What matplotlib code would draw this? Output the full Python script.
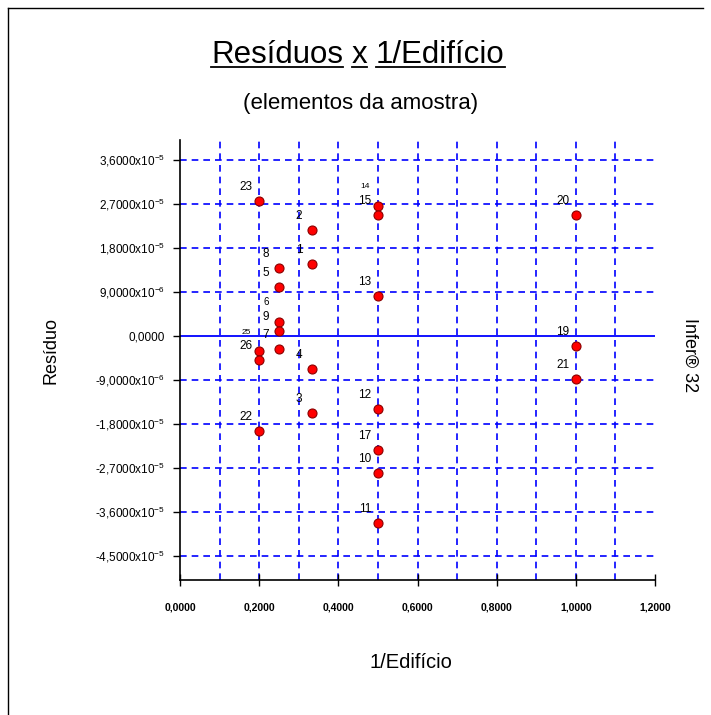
import matplotlib
matplotlib.use("Agg")
import matplotlib.pyplot as plt
from matplotlib.lines import Line2D

plt.rcParams['font.family'] = ['Liberation Sans', 'DejaVu Sans']
plt.rcParams['mathtext.fontset'] = 'custom'
plt.rcParams['mathtext.rm'] = 'Liberation Sans'
plt.rcParams['mathtext.it'] = 'Liberation Sans'

# amostra: numero do elemento, 1/Edificio, residuo
labels = ["1", "2", "3", "4", "5", "6", "7", "8", "9", "10", "11", "12", "13",
          "14", "15", "17", "19", "20", "21", "22", "23", "25", "26"]
inv_edif = [1/3, 1/3, 1/3, 1/3, 0.25, 0.25, 0.25, 0.25, 0.25, 0.5, 0.5, 0.5, 0.5,
            0.5, 0.5, 0.5, 1.0, 1.0, 1.0, 0.2, 0.2, 0.2, 0.2]
residuos = [1.47e-5, 2.15e-5, -1.59e-5, -6.9e-6, 1.0e-5, 2.7e-6, -2.7e-6, 1.39e-5, 0.9e-6,
            -2.82e-5, -3.83e-5, -1.51e-5, 8.1e-6, 2.66e-5, 2.46e-5, -2.34e-5,
            -2.2e-6, 2.46e-5, -8.8e-6, -1.95e-5, 2.76e-5, -3.2e-6, -5.1e-6]

xticks = [0.0, 0.2, 0.4, 0.6, 0.8, 1.0, 1.2]
xticklabels = ["0,0000", "0,2000", "0,4000", "0,6000", "0,8000", "1,0000", "1,2000"]
yticks = [3.6e-5, 2.7e-5, 1.8e-5, 9e-6, 0.0, -9e-6, -1.8e-5, -2.7e-5, -3.6e-5, -4.5e-5]
yticklabels = ["3,6000x10$^{-5}$", "2,7000x10$^{-5}$", "1,8000x10$^{-5}$", "9,0000x10$^{-6}$",
               "0,0000", "-9,0000x10$^{-6}$", "-1,8000x10$^{-5}$", "-2,7000x10$^{-5}$",
               "-3,6000x10$^{-5}$", "-4,5000x10$^{-5}$"]

W, H = 711, 715
fig = plt.figure(figsize=(W / 100, H / 100), dpi=100)
ax = fig.add_axes([180 / W, 135 / H, 475 / W, 440 / H])

ax.set_xlim(0, 1.2)
ax.set_ylim(-5e-5, 4e-5)

# grade azul tracejada
for gx in [0.1 * i for i in range(1, 12)]:
    ax.axvline(gx, color='#0000ff', lw=1.2, ls=(0, (4, 3)), zorder=1)
for gy in yticks:
    if gy == 0:
        continue
    ax.axhline(gy, color='#0000ff', lw=1.2, ls=(0, (4, 3)), zorder=1)
ax.axhline(0, color='#0000ff', lw=1.3, zorder=1)

ax.plot(inv_edif, residuos, 'o', color='#ff0000', mec='#8b0000', mew=0.8, ms=6.5, zorder=3)
# rotulos quase escondidos no original ficam menores e um pouco acima
for lab, x, y in zip(labels, inv_edif, residuos):
    dy, fs = 14, 8.5
    if lab in ("14", "25"):
        dy, fs = 19, 6
    elif lab == "6":
        dy, fs = 20, 7
    ax.annotate(lab, (x, y), xytext=(-13, dy), textcoords='offset pixels',
                ha='center', va='center', fontsize=fs, zorder=4)

ax.set_xticks(xticks)
ax.set_xticklabels(xticklabels, fontsize=7.5, fontweight='bold')
ax.set_yticks(yticks)
ax.set_yticklabels(yticklabels, fontsize=8.5)
ax.tick_params(axis='x', direction='inout', length=8, width=1, pad=12)
ax.tick_params(axis='y', direction='out', length=5, width=1, pad=6)
ax.spines['top'].set_visible(False)
ax.spines['right'].set_visible(False)
ax.spines['left'].set_linewidth(1.2)
ax.spines['bottom'].set_linewidth(1.2)

fig.text(51 / W, 1 - 350 / H, "Resíduo", rotation=90, ha='center', va='center', fontsize=13)
fig.text(690 / W, 1 - 355 / H, "Infer® 32", rotation=-90, ha='center', va='center', fontsize=13)
fig.text(411 / W, 1 - 663 / H, "1/Edifício", ha='center', va='center', fontsize=14.5)
fig.text(361 / W, 1 - 104 / H, "(elementos da amostra)", ha='center', va='center', fontsize=16)

# titulo sublinhado palavra por palavra
words = ["Resíduos", "x", "1/Edifício"]
renderer = fig.canvas.get_renderer()
tsize = 22.5
widths = []
for w in words:
    t = fig.text(0, 0, w, fontsize=tsize)
    widths.append(t.get_window_extent(renderer).width)
    t.remove()
sp = fig.text(0, 0, "a a", fontsize=tsize)
spw = sp.get_window_extent(renderer).width
sp.remove()
sa = fig.text(0, 0, "aa", fontsize=tsize)
spw = spw - sa.get_window_extent(renderer).width
sa.remove()
total = sum(widths) + spw * (len(words) - 1)
x0 = 358 - total / 2
base = H - 63
for w, wd in zip(words, widths):
    fig.text(x0 / W, base / H, w, fontsize=tsize, va='baseline', ha='left')
    fig.add_artist(Line2D([x0 / W, (x0 + wd) / W], [(base - 4) / H, (base - 4) / H],
                          color='black', lw=1.3, transform=fig.transFigure))
    x0 += wd + spw

fig.add_artist(Line2D([8 / W, 8 / W], [0, 1 - 8 / H], color='black', lw=1, transform=fig.transFigure))
fig.add_artist(Line2D([8 / W, 703 / W], [1 - 8 / H, 1 - 8 / H], color='black', lw=1, transform=fig.transFigure))

fig.savefig("out.png", dpi=100)
